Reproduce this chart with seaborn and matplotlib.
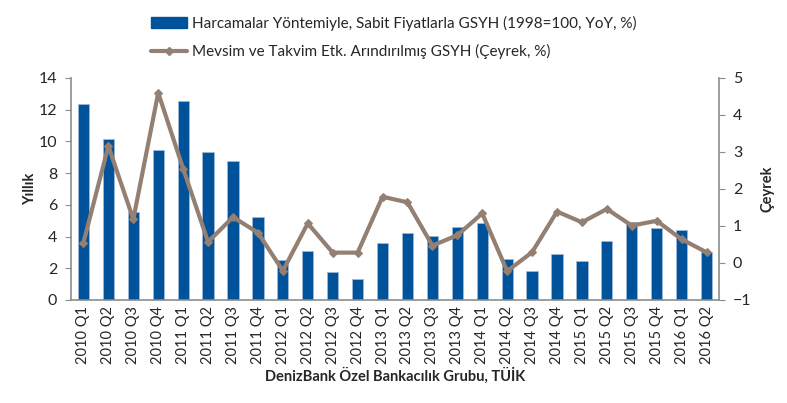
import numpy as np
import pandas as pd
import matplotlib
matplotlib.use("Agg")
import matplotlib.pyplot as plt
import seaborn as sns
from matplotlib.lines import Line2D
from matplotlib.patches import Patch

quarters = ["2010 Q1", "2010 Q2", "2010 Q3", "2010 Q4", "2011 Q1", "2011 Q2", "2011 Q3", "2011 Q4",
            "2012 Q1", "2012 Q2", "2012 Q3", "2012 Q4", "2013 Q1", "2013 Q2", "2013 Q3", "2013 Q4",
            "2014 Q1", "2014 Q2", "2014 Q3", "2014 Q4", "2015 Q1", "2015 Q2", "2015 Q3", "2015 Q4",
            "2016 Q1", "2016 Q2"]
yoy = [12.36, 10.15, 5.55, 9.46, 12.55, 9.33, 8.76, 5.23,
       2.52, 3.07, 1.77, 1.30, 3.61, 4.20, 4.03, 4.62,
       4.83, 2.56, 1.81, 2.90, 2.48, 3.72, 4.90, 4.52,
       4.39, 3.00]
qoq = [0.55, 3.16, 1.18, 4.60, 2.55, 0.57, 1.24, 0.82,
       -0.21, 1.07, 0.28, 0.28, 1.79, 1.64, 0.47, 0.75,
       1.34, -0.22, 0.29, 1.39, 1.10, 1.46, 1.01, 1.14,
       0.64, 0.29]

bar_label = "Harcamalar Yöntemiyle, Sabit Fiyatlarla GSYH (1998=100, YoY, %)"
line_label = "Mevsim ve Takvim Etk. Arındırılmış GSYH (Çeyrek, %)"

sns.set_style("white")
plt.rcParams['font.family'] = ['Lato', 'DejaVu Sans']

BLUE = "#00529B"
BROWN = "#948073"
SPINE = "#8C8C8C"
TXT = "#262626"

df = pd.DataFrame({"q": quarters, "yoy": yoy, "qoq": qoq, "pos": np.arange(len(quarters))})

fig = plt.figure(figsize=(7.87, 4.03), dpi=100)
ax = fig.add_axes([0.0902, 0.2556, 0.8234, 0.5509])

sns.barplot(data=df, x="q", y="yoy", color=BLUE, width=0.45, saturation=1,
            edgecolor="#9DB8D9", linewidth=0.6, ax=ax)
ax.set_ylim(0, 14)
ax.set_yticks(np.arange(0, 15, 2))
ax.set_xlim(-0.5, len(quarters) - 0.5)

ax2 = ax.twinx()
sns.lineplot(data=df, x="pos", y="qoq", color=BROWN, linewidth=3, marker="D", markersize=4,
             markeredgecolor=BROWN, ax=ax2)
ax2.set_ylim(-1, 5)
ax2.set_yticks(np.arange(-1, 6, 1))
ax2.set_xlim(-0.5, len(quarters) - 0.5)

for a in (ax, ax2):
    for s in a.spines.values():
        s.set_visible(False)
ax.spines['left'].set_visible(True)
ax.spines['bottom'].set_visible(True)
ax2.spines['right'].set_visible(True)
for s in (ax.spines['left'], ax.spines['bottom'], ax2.spines['right']):
    s.set_color(SPINE)
    s.set_linewidth(1.2)

ax.set_xticks(np.arange(len(quarters)))
ax.set_xticklabels(quarters, rotation=90, fontsize=10.5, color=TXT)
ax.set_xticks(np.arange(-0.5, len(quarters), 1), minor=True)
ax.tick_params(axis='x', which='major', length=0, pad=4)
ax.tick_params(axis='x', which='minor', length=4, color=SPINE, direction='out')
ax.tick_params(axis='y', length=4, color=SPINE, direction='out', labelsize=11.5, labelcolor=TXT, pad=6)
ax2.tick_params(axis='y', length=4, color=SPINE, direction='out', labelsize=11.5, labelcolor=TXT, pad=6)

ax.set_xlabel("DenizBank Özel Bankacılık Grubu, TÜİK", fontsize=10.5, fontweight='bold', color=TXT, labelpad=3)
ax.set_ylabel("Yıllık", fontsize=10.5, fontweight='bold', color=TXT, labelpad=0)
ax2.set_ylabel("Çeyrek", fontsize=10.5, fontweight='bold', color=TXT, labelpad=2)
ax2.yaxis.set_label_coords(1.064, 0.5)
ax.yaxis.set_label_coords(-0.052, 0.5)

handles = [Patch(facecolor=BLUE, edgecolor=BLUE),
           Line2D([0], [0], color=BROWN, lw=3, marker="D", markersize=4)]
fig.legend(handles, [bar_label, line_label], loc='upper center', bbox_to_anchor=(0.5, 0.995),
           ncol=1, frameon=False, fontsize=11, labelcolor=TXT, handlelength=2.4,
           handletextpad=0.3, labelspacing=0.85)

fig.savefig("out.png", dpi=100)
